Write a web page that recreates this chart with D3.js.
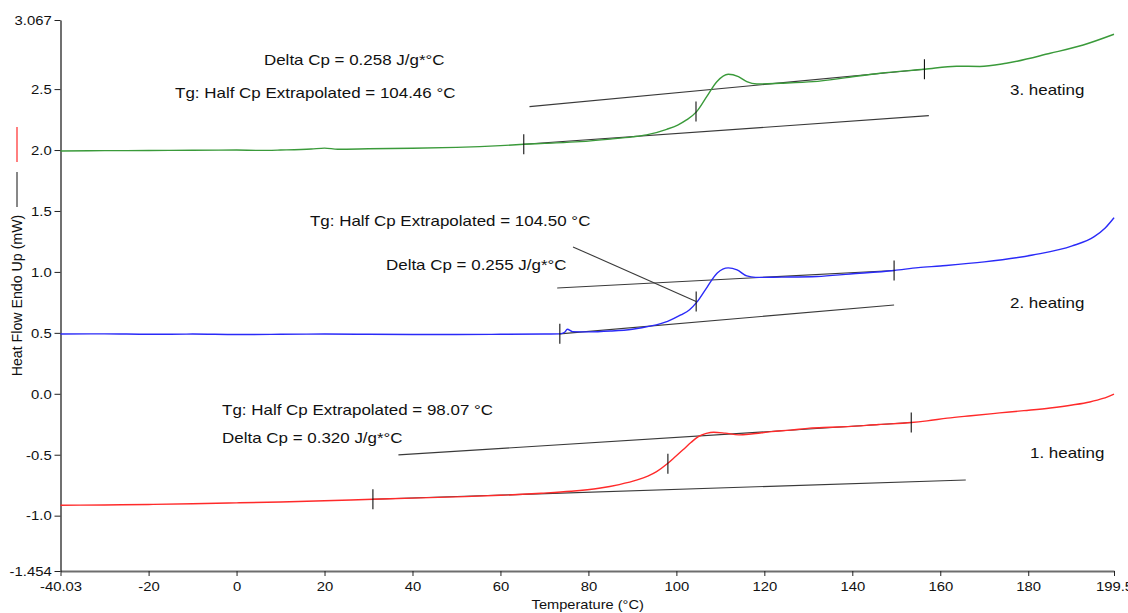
<!DOCTYPE html>
<html>
<head>
<meta charset="utf-8">
<script src="https://cdn.jsdelivr.net/npm/d3@7/dist/d3.min.js"></script>
<style>
  html, body { margin: 0; padding: 0; background: #fff; }
  svg { display: block; font-family: Arial, "Liberation Sans", sans-serif; }
</style>
</head>
<body>
<svg id="chart" width="1128" height="613"></svg>
<script>
// DSC heat-flow curves, three heating runs: [temperature °C, heat flow mW]
const heating1 = [
  [-40.03, -0.915], [-30, -0.912], [-20, -0.908], [-10, -0.902], [0, -0.895],
  [10, -0.888], [20, -0.878], [31.0, -0.865], [40, -0.856], [51.9, -0.844],
  [60, -0.833], [69.3, -0.816], [76, -0.800], [82.4, -0.775], [87, -0.745],
  [91.1, -0.707], [93.5, -0.675], [95.5, -0.638], [98.07, -0.570], [99.8, -0.515],
  [101.5, -0.460], [103.3, -0.400], [105.0, -0.351], [106.8, -0.325], [108.5, -0.315],
  [111.1, -0.323], [114.2, -0.337], [117, -0.330], [121.6, -0.310], [126, -0.298],
  [130.3, -0.282], [135, -0.275], [139.0, -0.269], [146, -0.252], [153.4, -0.236],
  [157, -0.222], [161.6, -0.200], [167, -0.180], [173.5, -0.157], [179, -0.138],
  [185, -0.116], [190, -0.092], [194, -0.067], [197, -0.038], [199.5, -0.002]
];
const heating2 = [
  [-40.03, 0.490], [-30, 0.492], [-20, 0.488], [-10, 0.490], [0, 0.486],
  [10, 0.488], [20, 0.490], [30, 0.488], [40, 0.487], [50, 0.486],
  [60, 0.488], [70, 0.490], [73.5, 0.492], [74.6, 0.505], [75.2, 0.530],
  [76.4, 0.510], [80, 0.508], [85, 0.515], [90, 0.530], [94, 0.555],
  [98, 0.595], [101, 0.647], [103, 0.690], [104.7, 0.754], [107, 0.876],
  [109.3, 0.991], [111.8, 1.033], [113.8, 1.016], [116, 0.967], [118, 0.955],
  [124, 0.957], [132, 0.962], [139.5, 0.983], [149.5, 1.012], [155, 1.035],
  [160, 1.049], [170, 1.082], [181, 1.139], [190, 1.213], [195, 1.290],
  [197.5, 1.361], [199.5, 1.445]
];
const heating3 = [
  [-40.03, 1.992], [-30, 1.995], [-20, 1.996], [-10, 1.998], [0, 2.000],
  [5, 1.997], [10, 2.000], [17, 2.008], [20, 2.016], [23, 2.007],
  [30, 2.010], [40, 2.015], [50, 2.022], [55.3, 2.028], [60, 2.036],
  [65.3, 2.047], [70, 2.055], [78.1, 2.069], [85, 2.090], [90, 2.108],
  [93.2, 2.124], [97.8, 2.170], [100.3, 2.205], [102.3, 2.247], [104.6, 2.315],
  [106.9, 2.438], [109.2, 2.561], [111.8, 2.622], [114.1, 2.602], [116.0, 2.561],
  [118.3, 2.542], [123.6, 2.548], [131.1, 2.561], [138.7, 2.594], [146.3, 2.630],
  [156.4, 2.663], [163.7, 2.688], [169, 2.686], [175, 2.712], [185, 2.794],
  [192.5, 2.862], [199.5, 2.950]
];

// Glass-transition analysis per run: onset, Tg and end temperatures,
// extrapolated baselines before and after the step [T1, v1, T2, v2]
const runNames = ["1. heating", "2. heating", "3. heating"];
const runColors = ["#ff2a2a", "#2a2af8", "#3a9a3a"];
const onsetT = [31.0, 73.5, 65.3];
const tgValues = [98.07, 104.50, 104.46];
const endT = [153.4, 149.5, 156.4];
const lowerBaselines = [
  [31.0, -0.865, 165.8, -0.707],
  [73.5, 0.492, 149.5, 0.729],
  [65.3, 2.047, 157.4, 2.282]
];
const upperBaselines = [
  [36.8, -0.501, 153.4, -0.236],
  [72.9, 0.868, 149.5, 1.012],
  [66.6, 2.356, 156.4, 2.663]
];
const deltaCp = ["0.320", "0.255", "0.258"];

// Axis ticks
const xTickValues = [-40.03, -20, 0, 20, 40, 60, 80, 100, 120, 140, 160, 180, 199.5];
const xTickLabels = ["-40.03", "-20", "0", "20", "40", "60", "80", "100", "120", "140", "160", "180", "199.5"];
const yTickValues = [3.067, 2.5, 2.0, 1.5, 1.0, 0.5, 0.0, -0.5, -1.0, -1.454];
const yTickLabels = ["3.067", "2.5", "2.0", "1.5", "1.0", "0.5", "0.0", "-0.5", "-1.0", "-1.454"];

const svg = d3.select("#chart");
const plot = { left: 60.5, right: 1114, top: 20, bottom: 571 };
const FONT = "Arial, 'Liberation Sans', sans-serif";
const WIDE = 1.1;   // slightly wide lettering used throughout

const x = d3.scaleLinear().domain([-40.03, 199.5]).range([plot.left, plot.right]);
const y = d3.scaleLinear().domain([-1.454, 3.067]).range([plot.bottom, plot.top]);

// Axes
const xAxis = svg.append("g")
  .attr("transform", `translate(0,${plot.bottom})`)
  .call(d3.axisBottom(x).tickValues(xTickValues)
    .tickFormat((d, i) => xTickLabels[i]).tickSize(5).tickSizeOuter(0).tickPadding(5));
xAxis.select(".domain").attr("stroke", "#6e6e6e").attr("stroke-width", 2);
xAxis.selectAll(".tick line").attr("stroke", "#222");
xAxis.selectAll(".tick text").attr("font-size", 13.5).attr("fill", "#111")
  .attr("font-family", FONT).attr("transform", `scale(${WIDE},1)`);

const yAxis = svg.append("g")
  .attr("transform", `translate(${plot.left},0)`)
  .call(d3.axisLeft(y).tickValues(yTickValues)
    .tickFormat((d, i) => yTickLabels[i]).tickSize(6).tickSizeOuter(0).tickPadding(2));
yAxis.select(".domain").attr("stroke", "#111").attr("stroke-width", 1.2);
yAxis.selectAll(".tick line").attr("stroke", "#222");
yAxis.selectAll(".tick text").attr("font-size", 13.5).attr("fill", "#111")
  .attr("font-family", FONT).attr("transform", `scale(${WIDE},1)`);

// Axis titles
svg.append("text")
  .attr("transform", `translate(${(plot.left + plot.right) / 2 + 0.5},609) scale(${WIDE},1)`)
  .attr("text-anchor", "middle")
  .attr("font-size", 13.3)
  .attr("fill", "#111")
  .text("Temperature (°C)");

svg.append("text")
  .attr("transform", "translate(22,295.5) rotate(-90)")
  .attr("text-anchor", "middle")
  .attr("font-size", 14.2)
  .attr("fill", "#111")
  .text("Heat Flow Endo Up (mW)");
svg.append("line").attr("x1", 17).attr("x2", 17).attr("y1", 172).attr("y2", 207)
  .attr("stroke", "#111").attr("stroke-width", 1);
svg.append("line").attr("x1", 17).attr("x2", 17).attr("y1", 127).attr("y2", 162)
  .attr("stroke", "#ff2a2a").attr("stroke-width", 1.2);

// Baseline / tangent construction lines
const annot = svg.append("g");
const lineAt = (b, t) => b[1] + (b[3] - b[1]) * (t - b[0]) / (b[2] - b[0]);
const curves = [heating1, heating2, heating3];

[0, 1, 2].forEach(i => {
  [lowerBaselines[i], upperBaselines[i]].forEach(b => {
    annot.append("line")
      .attr("x1", x(b[0])).attr("y1", y(b[1]))
      .attr("x2", x(b[2])).attr("y2", y(b[3]))
      .attr("stroke", "#3a3a3a").attr("stroke-width", 1.1);
  });
});

// Series curves
const line = d3.line().x(d => x(d[0])).y(d => y(d[1])).curve(d3.curveMonotoneX);
curves.forEach((data, i) => {
  svg.append("path")
    .datum(data)
    .attr("fill", "none")
    .attr("stroke", runColors[i])
    .attr("stroke-width", 1.4)
    .attr("d", line);
});

// Vertical markers at onset, half-Cp Tg and end
const marks = svg.append("g");
[0, 1, 2].forEach(i => {
  const tg = tgValues[i];
  const mid = (lineAt(lowerBaselines[i], tg) + lineAt(upperBaselines[i], tg)) / 2;
  const pts = [
    [onsetT[i], lineAt(lowerBaselines[i], onsetT[i])],
    [tg, mid],
    [endT[i], lineAt(upperBaselines[i], endT[i])]
  ];
  pts.forEach(p => {
    marks.append("line")
      .attr("x1", x(p[0])).attr("x2", x(p[0]))
      .attr("y1", y(p[1]) - 10).attr("y2", y(p[1]) + 10)
      .attr("stroke", "#111").attr("stroke-width", 1.1);
  });
});

// Leader from the Tg label of run 2 to its marker
{
  const tg = tgValues[1];
  const mid = (lineAt(lowerBaselines[1], tg) + lineAt(upperBaselines[1], tg)) / 2;
  annot.append("line")
    .attr("x1", x(76.5)).attr("y1", y(1.205))
    .attr("x2", x(tg)).attr("y2", y(mid))
    .attr("stroke", "#3a3a3a").attr("stroke-width", 1.1);
}

// Text annotations, anchored in data units [T, mW]
const texts = [
  [6.23, 2.739, `Delta Cp = ${deltaCp[2]} J/g*°C`],
  [-13.99, 2.468, `Tg: Half Cp Extrapolated = ${tgValues[2].toFixed(2)} °C`],
  [175.85, 2.492, runNames[2]],
  [16.69, 1.419, `Tg: Half Cp Extrapolated = ${tgValues[1].toFixed(2)} °C`],
  [33.97, 1.058, `Delta Cp = ${deltaCp[1]} J/g*°C`],
  [175.85, 0.746, runNames[1]],
  [-3.3, -0.129, `Tg: Half Cp Extrapolated = ${tgValues[0].toFixed(2)} °C`],
  [-3.3, -0.359, `Delta Cp = ${deltaCp[0]} J/g*°C`],
  [180.4, -0.482, runNames[0]]
];
svg.append("g").selectAll("text")
  .data(texts)
  .join("text")
  .attr("transform", d => `translate(${x(d[0])},${y(d[1])}) scale(1.13,1)`)
  .attr("dy", "0.36em")
  .attr("font-size", 15)
  .attr("fill", "#111")
  .text(d => d[2]);
</script>
</body>
</html>
